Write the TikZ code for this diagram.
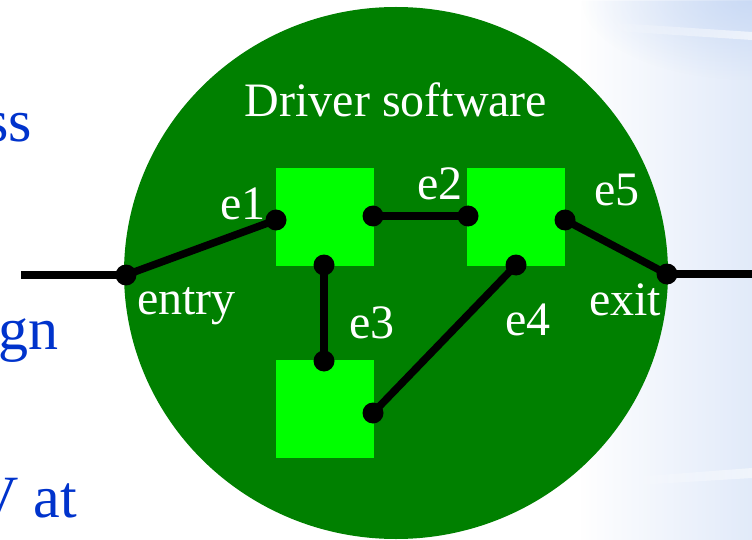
\documentclass[tikz,border=0pt]{standalone}
\usepackage{fontspec}
\setmainfont{Liberation Serif}
\usetikzlibrary{fadings}
\tikzfading[name=softdisc, inner color=transparent!0, outer color=transparent!100]
\begin{document}
\begin{tikzpicture}[x=1pt,y=-1pt,
  dot/.style={circle,fill=black,inner sep=0pt,minimum size=21pt},
  blk/.style={fill=brightgreen,minimum size=98pt,inner sep=0pt},
  wire/.style={line width=7.5pt,black},
  lbl/.style={text=white,inner sep=0pt,font=\fontsize{48}{56}\selectfont},
  slide/.style={text=slideblue,inner sep=0pt,anchor=base east,font=\fontsize{60}{70}\selectfont}]
\definecolor{darkgr}{RGB}{0,128,0}
\definecolor{brightgreen}{RGB}{0,255,0}
\definecolor{slideblue}{RGB}{0,51,204}
\definecolor{paleblue}{RGB}{196,214,244}
\useasboundingbox (0,0) rectangle (752,540);
\clip (0,0) rectangle (752,540);
\fill[white] (0,0) rectangle (752,540);
% right background gradient
\fill[paleblue,path fading=west,opacity=0.5] (580,0) rectangle (752,540);
\fill[paleblue,path fading=softdisc,opacity=0.8] (752,0) ellipse [x radius=170, y radius=80];
\fill[white,path fading=west,opacity=0.6] (600,22) -- (752,32) -- (752,40) -- (600,30) -- cycle;
\fill[white,path fading=west,opacity=0.5] (620,478) -- (752,468) -- (752,478) -- (620,486) -- cycle;
% cropped slide text
\node[slide] (t1) at (32,142) {ss};
\node[slide] (t2) at (59,349) {gn};
\node[slide] (t3) at (77,517) {V at};
% driver disc
\fill[darkgr] (396,273) ellipse [x radius=272, y radius=266];
\node[lbl,anchor=base] (title) at (396,117) {Driver software};
% boxes
\node[blk] (b1) at (325,217) {};
\node[blk] (b2) at (516,217) {};
\node[blk] (b3) at (325,409) {};
% connection points
\coordinate (lend) at (21,275);
\coordinate (rend) at (752,274);
\node[dot] (entry) at (126,275) {};
\node[dot] (p1) at (276,220) {};
\node[dot] (p2) at (373,216) {};
\node[dot] (p3) at (468,216) {};
\node[dot] (p4) at (565,220) {};
\node[dot] (exit) at (667,274) {};
\node[dot] (p5) at (324,265) {};
\node[dot] (p6) at (324,361) {};
\node[dot] (p7) at (516,265) {};
\node[dot] (p8) at (373,413) {};
% wires
\draw[wire] (lend) -- (entry.center);
\draw[wire] (entry.center) -- (p1.center);
\draw[wire] (p2.center) -- (p3.center);
\draw[wire] (p5.center) -- (p6.center);
\draw[wire] (p7.center) -- (p8.center);
\draw[wire] (p4.center) -- (exit.center);
\draw[wire] (exit.center) -- (rend);
% labels
\node[lbl,anchor=base west] (le1) at (220,219) {e1};
\node[lbl,anchor=base west] (le2) at (417,200) {e2};
\node[lbl,anchor=base west] (le5) at (594,206) {e5};
\node[lbl,anchor=base west] (lentry) at (137,314) {entry};
\node[lbl,anchor=base west] (le3) at (349,338) {e3};
\node[lbl,anchor=base west] (le4) at (505,335) {e4};
\node[lbl,anchor=base west] (lexit) at (589,315) {exit};
\end{tikzpicture}
\end{document}
